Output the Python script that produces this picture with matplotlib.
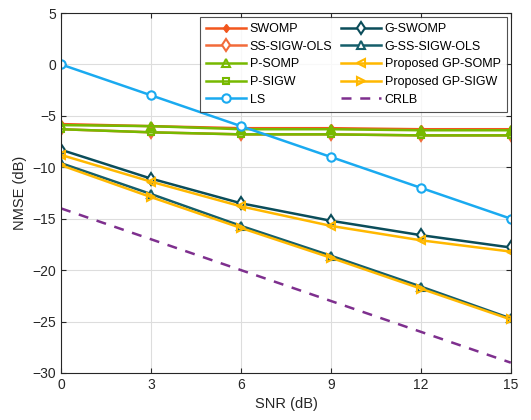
import numpy as np
import matplotlib.pyplot as plt

snr = [0, 3, 6, 9, 12, 15]

swomp = [-5.8, -6.0, -6.2, -6.2, -6.3, -6.3]
ss_sigw_ols = [-6.3, -6.6, -6.8, -6.8, -6.9, -6.9]
p_somp = [-5.9, -6.0, -6.3, -6.3, -6.4, -6.4]
p_sigw = [-6.3, -6.6, -6.8, -6.8, -6.9, -6.9]
ls = [0, -3, -6, -9, -12, -15]
g_swomp = [-8.3, -11.1, -13.5, -15.2, -16.6, -17.8]
g_ss_sigw_ols = [-9.6, -12.6, -15.7, -18.6, -21.6, -24.7]
gp_somp = [-8.8, -11.4, -13.8, -15.7, -17.1, -18.2]
gp_sigw = [-9.8, -12.9, -15.9, -18.8, -21.8, -24.8]
crlb = [-14, -17, -20, -23, -26, -29]

plt.rcParams['font.family'] = ['Liberation Sans', 'DejaVu Sans']

fig = plt.figure(figsize=(5.31, 4.2), dpi=100)
ax = fig.add_axes([0.115, 0.112, 0.847, 0.857])

lw = 1.8
ms = 6
ax.plot(snr, swomp, color='#F2561D', marker='d', ms=4.5, lw=lw, label='SWOMP')
ax.plot(snr, ss_sigw_ols, color='#F26B3A', marker='d', ms=ms, mfc='white', mew=1.5, lw=lw, label='SS-SIGW-OLS')
ax.plot(snr, p_somp, color='#77B900', marker='^', ms=5.5, mfc='none', mew=1.5, lw=lw, label='P-SOMP')
ax.plot(snr, p_sigw, color='#77B900', marker='s', ms=5, mfc='none', mew=1.5, lw=lw, label='P-SIGW')
ax.plot(snr, ls, color='#1AAAF0', marker='o', ms=ms, mfc='white', mew=1.5, lw=lw, label='LS')
ax.plot(snr, g_swomp, color='#0B4D5A', marker='d', ms=ms, mfc='white', mew=1.5, lw=lw, label='G-SWOMP')
ax.plot(snr, g_ss_sigw_ols, color='#155E6A', marker='^', ms=ms, mfc='white', mew=1.5, lw=lw, label='G-SS-SIGW-OLS')
ax.plot(snr, gp_somp, color='#FFB800', marker='<', ms=ms, mfc='none', mew=1.5, lw=lw, label='Proposed GP-SOMP')
ax.plot(snr, gp_sigw, color='#FFB800', marker='>', ms=ms, mfc='none', mew=1.5, lw=lw, label='Proposed GP-SIGW')
ax.plot(snr, crlb, color='#7E2F8E', ls=(0, (4, 3.5)), lw=lw, label='CRLB')

ax.set_xlim(0, 15)
ax.set_ylim(-30, 5)
ax.set_xticks(snr)
ax.set_yticks(np.arange(-30, 6, 5))
ax.grid(True, color='#DDDDDD', lw=0.8)
ax.set_axisbelow(True)
ax.tick_params(direction='in', top=True, right=True, labelsize=10, colors='#262626')
for s in ax.spines.values():
    s.set_color('#262626')
ax.set_xlabel('SNR (dB)', fontsize=10.5, color='#262626')
ax.set_ylabel('NMSE (dB)', fontsize=10.5, color='#262626')

leg = ax.legend(ncol=2, loc='upper right', fontsize=9, handlelength=3.2,
                columnspacing=0.7, handletextpad=0.3, labelspacing=0.45,
                borderpad=0.5, fancybox=False, edgecolor='#262626',
                borderaxespad=0.3)
leg.get_frame().set_linewidth(0.8)

fig.savefig('out.png', dpi=100)
